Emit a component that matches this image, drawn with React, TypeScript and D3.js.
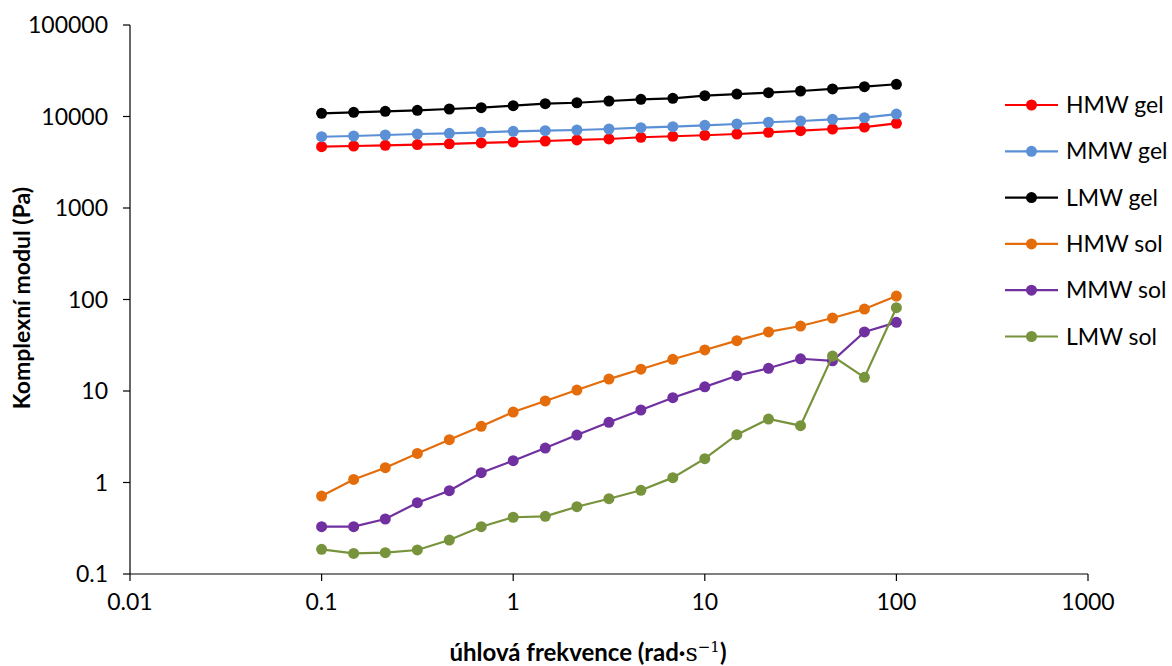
import React from "react";
import * as d3 from "d3";

const frequencies = [0.1, 0.147, 0.215, 0.316, 0.464, 0.681, 1, 1.47, 2.15, 3.16, 4.64, 6.81, 10, 14.7, 21.5, 31.6, 46.4, 68.1, 100];

const hmwGel = [4680, 4760, 4840, 4930, 5030, 5140, 5260, 5400, 5540, 5680, 5930, 6080, 6240, 6440, 6720, 7000, 7300, 7670, 8430];
const mmwGel = [6010, 6120, 6280, 6440, 6550, 6720, 6890, 7000, 7120, 7300, 7540, 7740, 8010, 8280, 8650, 8930, 9320, 9710, 10640];
const lmwGel = [10840, 11120, 11400, 11690, 12080, 12480, 13120, 13800, 14130, 14770, 15400, 15800, 16900, 17600, 18200, 19000, 20000, 21200, 22500];
const hmwSol = [0.711, 1.08, 1.45, 2.08, 2.94, 4.11, 5.89, 7.78, 10.25, 13.5, 17.3, 22.2, 28.1, 35.5, 44.2, 51.3, 62.8, 78.7, 109];
const mmwSol = [0.329, 0.329, 0.399, 0.601, 0.813, 1.28, 1.73, 2.38, 3.3, 4.55, 6.2, 8.45, 11.1, 14.7, 17.7, 22.5, 21.4, 44.2, 56.3];
const lmwSol = [0.186, 0.168, 0.171, 0.183, 0.235, 0.329, 0.417, 0.427, 0.544, 0.665, 0.822, 1.13, 1.82, 3.33, 4.94, 4.18, 24.1, 14.1, 81.4];

const seriesNames = ["HMW gel", "MMW gel", "LMW gel", "HMW sol", "MMW sol", "LMW sol"];
const seriesColors = ["#FF0000", "#5B8FD6", "#000000", "#E46C0A", "#7030A0", "#77933C"];
const seriesValues = [hmwGel, mmwGel, lmwGel, hmwSol, mmwSol, lmwSol];

const xTicks = [0.01, 0.1, 1, 10, 100, 1000];
const yTicks = [0.1, 1, 10, 100, 1000, 10000, 100000];

const W = 1172;
const H = 666;
const FONT = "Lato, 'Open Sans', sans-serif";

export default function App() {
  const x = d3.scaleLog().domain([0.01, 1000]).range([130, 1088]);
  const y = d3.scaleLog().domain([0.1, 100000]).range([574, 25]);
  const line = d3
    .line<[number, number]>()
    .x((d) => x(d[0]))
    .y((d) => y(d[1]));

  return (
    <svg width={W} height={H} style={{ position: "absolute", left: 0, top: 0, background: "#fff" }}>
      {/* axes */}
      <line x1={x(0.01)} x2={x(0.01)} y1={y(100000)} y2={y(0.1)} stroke="#000" strokeWidth={1.2} />
      <line x1={x(0.01)} x2={x(1000)} y1={y(0.1)} y2={y(0.1)} stroke="#000" strokeWidth={1.2} />
      {yTicks.map((t) => (
        <g key={"y" + t}>
          <line x1={x(0.01) - 7} x2={x(0.01)} y1={y(t)} y2={y(t)} stroke="#000" strokeWidth={1.2} />
          <text x={x(0.01) - 22} y={y(t)} dy="0.35em" textAnchor="end" fontFamily={FONT} fontSize={23} fill="#000">
            {String(t)}
          </text>
        </g>
      ))}
      {xTicks.map((t) => (
        <g key={"x" + t}>
          <line x1={x(t)} x2={x(t)} y1={y(0.1)} y2={y(0.1) + 7} stroke="#000" strokeWidth={1.2} />
          <text x={x(t)} y={y(0.1) + 36} textAnchor="middle" fontFamily={FONT} fontSize={23} fill="#000">
            {String(t)}
          </text>
        </g>
      ))}
      {/* axis titles */}
      <text x={588} y={661} textAnchor="middle" fontFamily={FONT} fontSize={24} fontWeight="bold" fill="#000">
        úhlová frekvence (rad·<tspan fontFamily="'DejaVu Serif', serif" fontWeight="normal">s</tspan>
        <tspan fontFamily="'DejaVu Serif', serif" fontWeight="normal" fontSize={15} dy={-9}>−1</tspan>
        <tspan dy={9}>)</tspan>
      </text>
      <text
        transform={`translate(30, 298) rotate(-90)`}
        textAnchor="middle"
        fontFamily={FONT}
        fontSize={23}
        fontWeight="bold"
        fill="#000"
      >
        Komplexní modul (Pa)
      </text>
      {/* series */}
      {seriesValues.map((vals, i) => {
        const pts: [number, number][] = frequencies.map((f, j) => [f, vals[j]]);
        return (
          <g key={seriesNames[i]}>
            <path d={line(pts) || ""} fill="none" stroke={seriesColors[i]} strokeWidth={2.2} />
            {pts.map((p, j) => (
              <circle key={j} cx={x(p[0])} cy={y(p[1])} r={5.5} fill={seriesColors[i]} />
            ))}
          </g>
        );
      })}
      {/* legend */}
      {seriesNames.map((name, i) => {
        const ly = 105 + i * 46.3;
        return (
          <g key={"lg" + name}>
            <line x1={1005} x2={1058} y1={ly} y2={ly} stroke={seriesColors[i]} strokeWidth={2.2} />
            <circle cx={1031.5} cy={ly} r={5.5} fill={seriesColors[i]} />
            <text x={1066} y={ly} dy="0.35em" fontFamily={FONT} fontSize={23} fill="#000">
              {name}
            </text>
          </g>
        );
      })}
    </svg>
  );
}
